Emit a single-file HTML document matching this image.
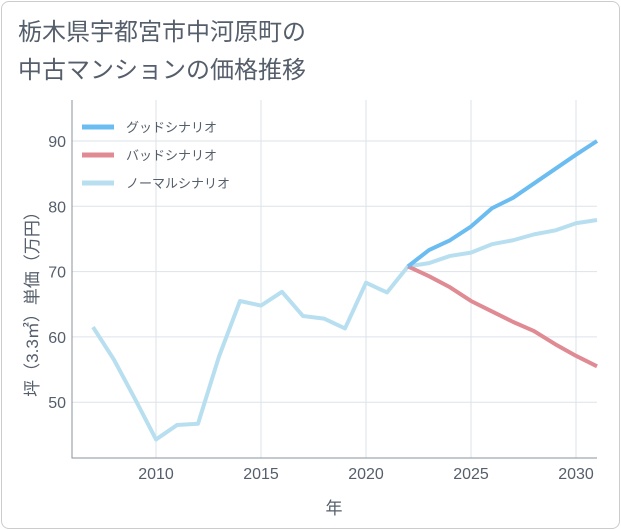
<!DOCTYPE html>
<html><head><meta charset="utf-8"><style>
body{margin:0;background:#fff;}
#card{position:absolute;left:1px;top:1px;width:617px;height:526px;border:1px solid #ccc;border-radius:8px;background:#fff;}
#title{position:absolute;left:18px;top:14px;font:24px "Liberation Sans","Noto Sans CJK JP",sans-serif;color:#555e6b;line-height:38px;}
svg{position:absolute;left:0;top:0;}
text{font-family:"Liberation Sans","Noto Sans CJK JP",sans-serif;fill:#555e6b;}
</style></head><body>
<div id="card"></div>
<div id="title">栃木県宇都宮市中河原町の<br>中古マンションの価格推移</div>
<svg id="chart" width="621" height="530"></svg>
<script>
const years=[2007,2008,2009,2010,2011,2012,2013,2014,2015,2016,2017,2018,2019,2020,2021,2022,2023,2024,2025,2026,2027,2028,2029,2030,2031];
const normal=[61.5,56.5,50.5,44.3,46.5,46.7,57,65.5,64.8,66.9,63.2,62.8,61.3,68.3,66.8,70.8,71.3,72.4,72.9,74.2,74.8,75.7,76.3,77.4,77.9];
const goodYears=[2022,2023,2024,2025,2026,2027,2028,2029,2030,2031];
const good=[70.8,73.3,74.8,76.9,79.7,81.3,83.5,85.7,87.9,90.0];
const bad=[70.8,69.3,67.6,65.5,63.9,62.3,60.9,58.9,57.1,55.5];
const xTicks=[2010,2015,2020,2025,2030];
const yTicks=[50,60,70,80,90];
const NS='http://www.w3.org/2000/svg';
const svg=document.getElementById('chart');
const L=72,R=597,T=100,B=458;
const x=v=>156+(v-2010)*21;
const y=v=>141+(90-v)*6.53;
function el(t,a){const e=document.createElementNS(NS,t);for(const k in a)e.setAttribute(k,a[k]);svg.appendChild(e);return e;}
xTicks.forEach(v=>{const g=el('line',{x1:x(v),x2:x(v),y1:T,y2:B,stroke:'#dde3ea'});


const t=el('text',{x:x(v),y:479,'text-anchor':'middle','font-size':16});t.textContent=v;

});
yTicks.forEach(v=>{const g=el('line',{x1:L,x2:R,y1:y(v),y2:y(v),stroke:'#dde3ea'});


const t=el('text',{x:L-6,y:y(v)+6,'text-anchor':'end','font-size':16});t.textContent=v;

});
const ax=el('path',{d:`M${L} ${T}V${B}H${R}`,stroke:'#8a939c',fill:'none'});


function line(xs,vs,c,name){const p=el('path',{d:xs.map((v,i)=>(i?'L':'M')+x(v)+' '+y(vs[i])).join(''),stroke:c,'stroke-width':4,fill:'none','stroke-linejoin':'round'});

}
line(years,normal,'#b8dff0','normal-scenario-line');
line(goodYears,bad,'#e08a93','bad-scenario-line');
line(goodYears,good,'#6bbcf0','good-scenario-line');
const leg=[['グッドシナリオ','#6bbcf0'],['バッドシナリオ','#e08a93'],['ノーマルシナリオ','#b8dff0']];
leg.forEach((l,i)=>{const yy=127+i*28;const s=el('line',{x1:82,x2:114,y1:yy,y2:yy,stroke:l[1],'stroke-width':5});


const t=el('text',{x:126,y:yy+5,'font-size':13});t.textContent=l[0];

});
const xt=el('text',{x:334,y:514,'text-anchor':'middle','font-size':17});xt.textContent='年';


const yt=el('text',{x:0,y:0,'text-anchor':'middle','font-size':17,transform:'translate(38,300) rotate(-90)'});yt.textContent='坪（3.3㎡）単価（万円）';


</script>
</body></html>
